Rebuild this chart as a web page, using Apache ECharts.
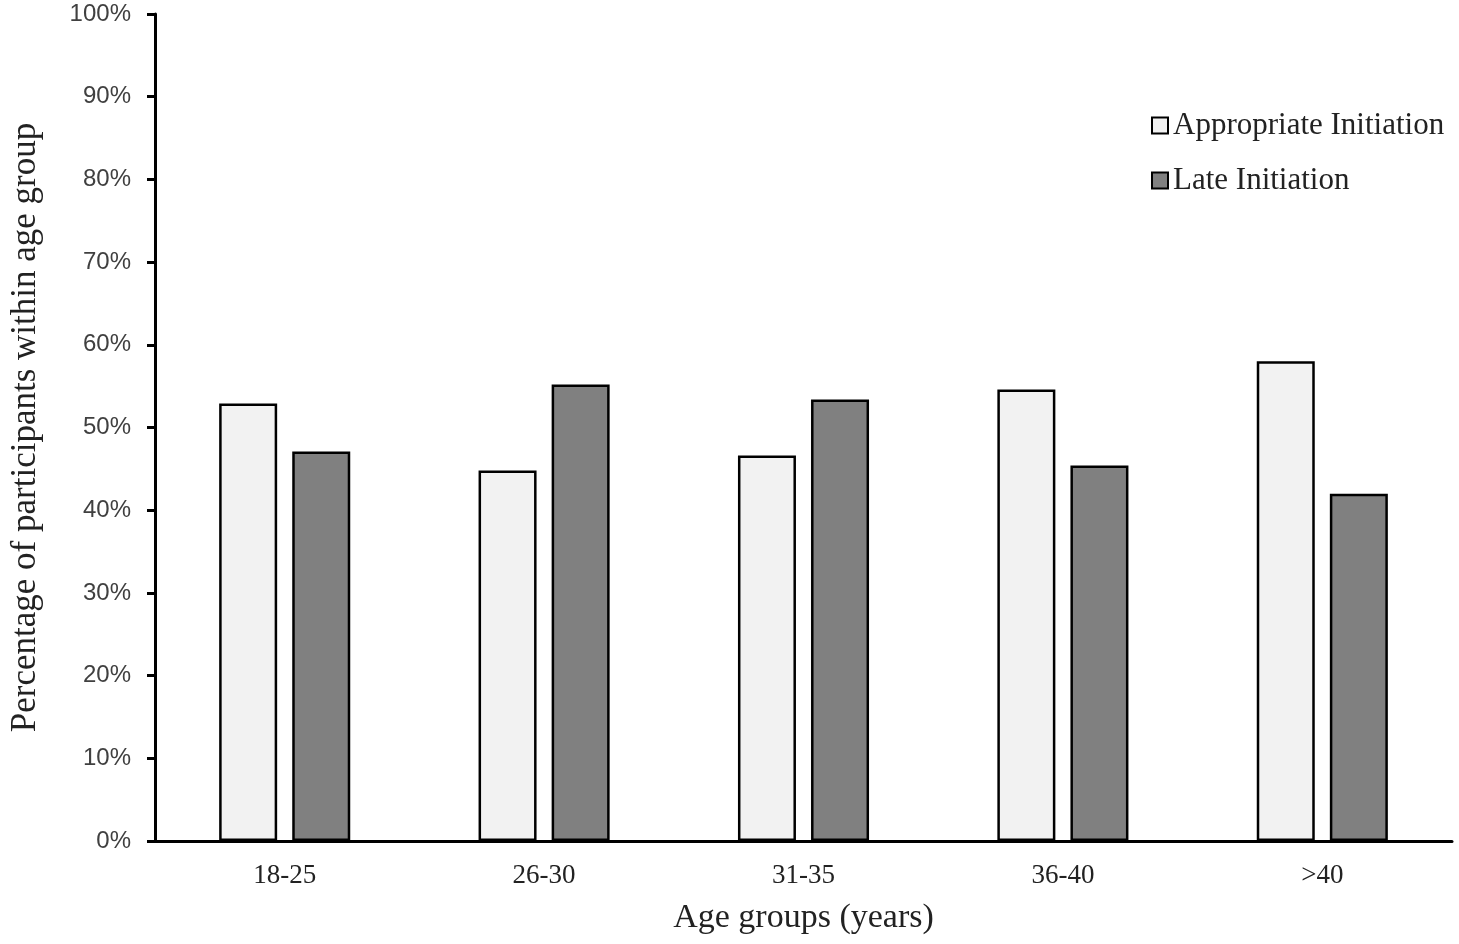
<!DOCTYPE html>
<html>
<head>
<meta charset="utf-8">
<script src="https://cdn.jsdelivr.net/npm/echarts@6/dist/echarts.min.js"></script>
<style>html,body{margin:0;padding:0;background:#fff;}#c{width:1459px;height:944px;}</style>
</head>
<body>
<div id="c"></div>
<script>
var categories = ['18-25', '26-30', '31-35', '36-40', '>40'];
var appropriateInitiation = [52.9, 44.8, 46.6, 54.6, 58.0];
var lateInitiation = [47.1, 55.2, 53.4, 45.4, 42.0];
var seriesNames = ['Appropriate Initiation', 'Late Initiation'];

var SERIF = '"Liberation Serif", "Times New Roman", serif';
var SANS = '"Liberation Sans", Arial, sans-serif';
var chart = echarts.init(document.getElementById('c'));
chart.setOption({
  animation: false,
  backgroundColor: '#fff',
  textStyle: { fontFamily: SERIF },
  grid: { left: 153, right: 7, top: 14, bottom: 103, containLabel: false },
  legend: {
    orient: 'vertical',
    left: 1146,
    top: 105,
    itemWidth: 16,
    itemHeight: 16,
    itemGap: 24,
    icon: 'rect',
    data: seriesNames,
    textStyle: { fontFamily: SERIF, fontSize: 31, lineHeight: 31, color: '#222' }
  },
  xAxis: {
    type: 'category',
    data: categories,
    name: 'Age groups (years)',
    nameLocation: 'middle',
    nameGap: 60,
    nameTextStyle: { fontFamily: SERIF, fontSize: 34, color: '#222' },
    axisLine: { lineStyle: { color: '#000', width: 3 } },
    axisTick: { show: false },
    axisLabel: { fontFamily: SERIF, fontSize: 27, color: '#222', margin: 21 }
  },
  yAxis: {
    type: 'value',
    min: 0,
    max: 100,
    interval: 10,
    name: 'Percentage of participants within age group',
    nameLocation: 'middle',
    nameGap: 112,
    nameTextStyle: { fontFamily: SERIF, fontSize: 35, color: '#222' },
    axisLine: { show: true, lineStyle: { color: '#000', width: 3 } },
    axisTick: { show: true, length: 8, lineStyle: { color: '#000', width: 3 } },
    splitLine: { show: false },
    axisLabel: { fontFamily: SANS, fontSize: 24, color: '#404040', margin: 24, padding: [4, 0, 0, 0], formatter: '{value}%' }
  },
  series: [
    {
      name: seriesNames[0],
      type: 'bar',
      data: appropriateInitiation,
      barWidth: 58,
      barGap: '26%',
      itemStyle: { color: '#f2f2f2', borderColor: '#000', borderWidth: 2.5 }
    },
    {
      name: seriesNames[1],
      type: 'bar',
      data: lateInitiation,
      barWidth: 58,
      barGap: '26%',
      itemStyle: { color: '#808080', borderColor: '#000', borderWidth: 2.5 }
    }
  ]
});
</script>
</body>
</html>
